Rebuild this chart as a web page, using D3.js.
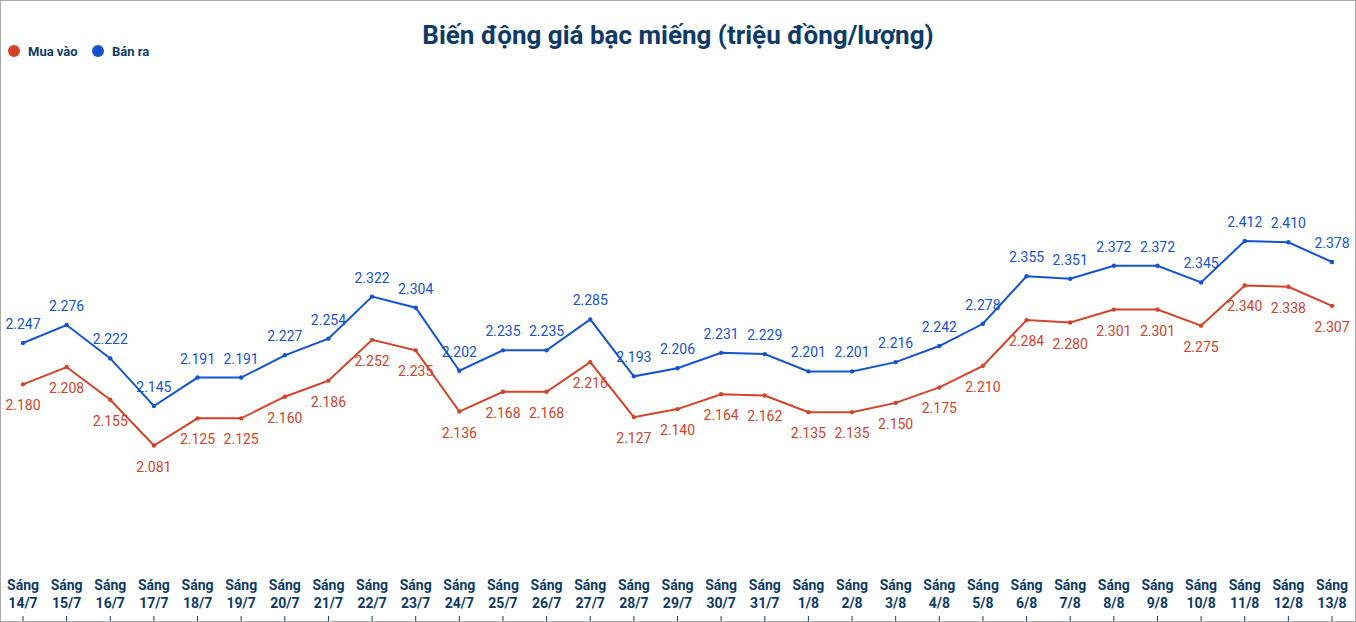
<!DOCTYPE html><html><head><meta charset="utf-8"><script src="https://cdn.jsdelivr.net/npm/d3@7"></script>
<style>body{margin:0;background:#fff}svg{font-family:Roboto,sans-serif}</style></head><body><svg id="c" width="1356" height="622"></svg><script>
const categories=["14/7","15/7","16/7","17/7","18/7","19/7","20/7","21/7","22/7","23/7","24/7","25/7","26/7","27/7","28/7","29/7","30/7","31/7","1/8","2/8","3/8","4/8","5/8","6/8","7/8","8/8","9/8","10/8","11/8","12/8","13/8"];
const muaVao=[2.180,2.208,2.155,2.081,2.125,2.125,2.160,2.186,2.252,2.235,2.136,2.168,2.168,2.216,2.127,2.140,2.164,2.162,2.135,2.135,2.150,2.175,2.210,2.284,2.280,2.301,2.301,2.275,2.340,2.338,2.307];
const banRa=[2.247,2.276,2.222,2.145,2.191,2.191,2.227,2.254,2.322,2.304,2.202,2.235,2.235,2.285,2.193,2.206,2.231,2.229,2.201,2.201,2.216,2.242,2.278,2.355,2.351,2.372,2.372,2.345,2.412,2.410,2.378];
const svg=d3.select("#c");
svg.append("rect").attr("x",0.5).attr("y",0.5).attr("width",1355).attr("height",621).attr("fill","none").attr("stroke","#aaa");
const x=d3.scalePoint().domain(categories).range([23,1332]);
const y=d3.scaleLinear().domain([2.0,2.5]).range([495.6,186.6]);
svg.append("text").attr("x",678).attr("y",44).attr("text-anchor","middle").attr("font-size",26).attr("font-weight",700).attr("fill","#0d3a66").text("Biến động giá bạc miếng (triệu đồng/lượng)");
const series=[{name:"Mua vào",c:"#d2432a",v:muaVao,dy:26},{name:"Bán ra",c:"#1553d1",v:banRa,dy:-14}];
const lg=[[14,"Mua vào"],[98,"Bán ra"]];
series.forEach((s,i)=>{
 svg.append("circle").attr("cx",lg[i][0]).attr("cy",51).attr("r",6).attr("fill",s.c);
 svg.append("text").attr("x",lg[i][0]+14).attr("y",55.5).attr("font-size",13).attr("font-weight",700).attr("fill","#0d3a66").text(s.name);
 svg.append("path").datum(s.v).attr("fill","none").attr("stroke",s.c).attr("stroke-width",2).attr("d",d3.line().x((d,j)=>x(categories[j])).y(d=>y(d)));
 svg.selectAll(null).data(s.v).join("circle").attr("cx",(d,j)=>x(categories[j])).attr("cy",d=>y(d)).attr("r",2.2).attr("fill",s.c);
 svg.selectAll(null).data(s.v).join("text").attr("x",(d,j)=>x(categories[j])).attr("y",d=>y(d)+s.dy).attr("text-anchor","middle").attr("font-size",14).attr("fill",s.c).text(d=>d.toFixed(3));
});
const ax=svg.append("g");
categories.forEach(c=>{
 const t=ax.append("text").attr("x",x(c)).attr("text-anchor","middle").attr("font-size",14).attr("font-weight",700).attr("fill","#0d3a66");
 t.append("tspan").attr("x",x(c)).attr("y",590).text("Sáng");
 t.append("tspan").attr("x",x(c)).attr("y",608).text(c);
 ax.append("line").attr("x1",x(c)).attr("x2",x(c)).attr("y1",616).attr("y2",621).attr("stroke","#0d3a66");
});
</script></body></html>
